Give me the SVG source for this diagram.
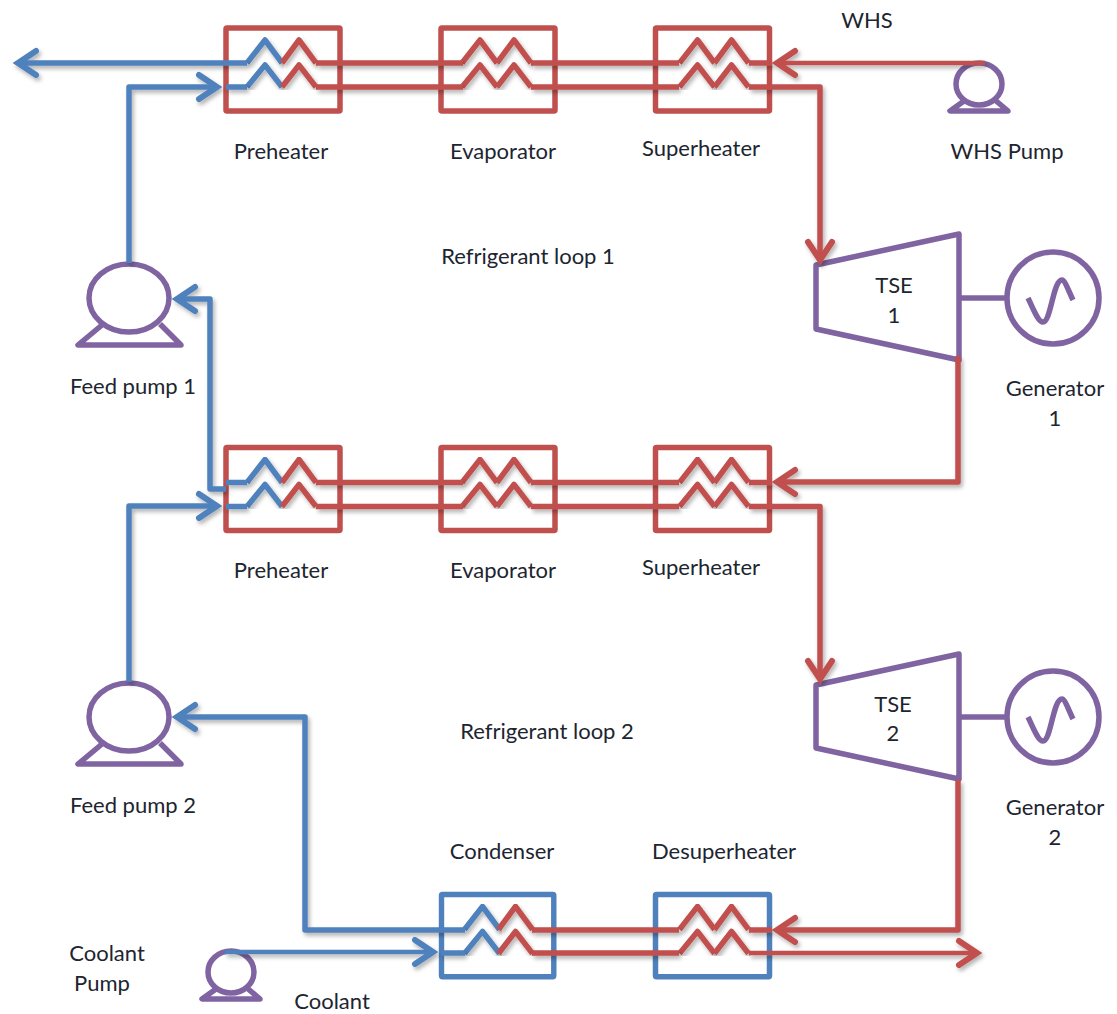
<svg xmlns="http://www.w3.org/2000/svg" width="1117" height="1014" viewBox="0 0 1117 1014">
<style>
text{font-family:"Lato","Open Sans",sans-serif;font-size:22px;fill:#1c2530;text-anchor:middle}
.b,.r,.p{fill:none;stroke-width:5.500;stroke-linejoin:round}
.b{stroke:#4f81bd}.r{stroke:#c0504d}.p{stroke:#8064a2}
.thin{stroke-width:4.500}
</style>
<defs>
<filter id="sh" x="-5%" y="-5%" width="110%" height="110%"><feDropShadow dx="2" dy="3" stdDeviation="2" flood-color="#000" flood-opacity="0.3"/></filter>
<marker id="ab" markerUnits="userSpaceOnUse" orient="auto" overflow="visible" markerWidth="30" markerHeight="30"><path d="M-18,-12L0,0L-18,12" fill="none" stroke="#4f81bd" stroke-width="6" stroke-linecap="round" stroke-linejoin="miter"/></marker>
<marker id="ar" markerUnits="userSpaceOnUse" orient="auto" overflow="visible" markerWidth="30" markerHeight="30"><path d="M-18,-12L0,0L-18,12" fill="none" stroke="#c0504d" stroke-width="6" stroke-linecap="round" stroke-linejoin="miter"/></marker>
<rect id="frame" width="114" height="83" rx="1"/>
<path id="zl" d="M21,35L39,12L56,35M21,59L39,37L56,59"/>
<path id="zr" d="M56,35L73,12L90,35M56,59L73,37L90,59"/>
<g id="pumpL"><ellipse cx="0" cy="0" rx="40" ry="34"/><path d="M-27,27L-51,47H52L31,26"/></g>
<g id="pumpS"><ellipse cx="0" cy="0" rx="23" ry="21"/><path d="M-15,17L-29,27H29L16,16"/></g>
<g id="gen"><path d="M-46,0H-94"/><circle cx="0" cy="0" r="46"/><path d="M-25,0C-20,10 -15,24 -10,24C-2,24 0,-18 9,-18C12,-18 16,-6 20,2"/></g>
</defs>

<g id="preheater-1" transform="translate(226,28)"><use href="#frame" class="r"/><use href="#zl" class="b" filter="url(#sh)"/><use href="#zr" class="r" filter="url(#sh)"/></g>
<g id="evaporator-1" transform="translate(441,28)"><use href="#frame" class="r"/><use href="#zl" class="r" filter="url(#sh)"/><use href="#zr" class="r" filter="url(#sh)"/></g>
<g id="superheater-1" transform="translate(655.5,28)"><use href="#frame" class="r"/><use href="#zl" class="r" transform="translate(3,0)" filter="url(#sh)"/><use href="#zr" class="r" transform="translate(3,0)" filter="url(#sh)"/></g>
<g id="preheater-2" transform="translate(226,447.5)"><use href="#frame" class="r"/><use href="#zl" class="b" filter="url(#sh)"/><use href="#zr" class="r" filter="url(#sh)"/></g>
<g id="evaporator-2" transform="translate(441,447.5)"><use href="#frame" class="r"/><use href="#zl" class="r" filter="url(#sh)"/><use href="#zr" class="r" filter="url(#sh)"/></g>
<g id="superheater-2" transform="translate(655.5,447.5)"><use href="#frame" class="r"/><use href="#zl" class="r" transform="translate(3,0)" filter="url(#sh)"/><use href="#zr" class="r" transform="translate(3,0)" filter="url(#sh)"/></g>
<g id="condenser" transform="translate(441.5,894.5)"><use href="#frame" class="b" transform="scale(0.985,0.99)"/><use href="#zl" class="b" transform="translate(2,0)" filter="url(#sh)"/><use href="#zr" class="r" transform="translate(1,0)" filter="url(#sh)"/></g>
<g id="desuperheater" transform="translate(655.5,894.5)"><use href="#frame" class="b" transform="scale(1,0.99)"/><use href="#zl" class="r" transform="translate(3,0)" filter="url(#sh)"/><use href="#zr" class="r" transform="translate(3,0)" filter="url(#sh)"/></g>

<g id="feed-pump-1" transform="translate(129,298)"><use href="#pumpL" class="p"/></g>
<g id="feed-pump-2" transform="translate(129,717)"><use href="#pumpL" class="p"/></g>
<g id="whs-pump" transform="translate(979,84)"><use href="#pumpS" class="p"/></g>
<g id="coolant-pump" transform="translate(231,972)"><use href="#pumpS" class="p"/></g>

<g id="tse-1"><path class="p" d="M816,265L959,234V360L816,329Z"/></g>
<g id="tse-2"><path class="p" d="M816,685L959,654V779L816,748Z"/></g>
<g id="generator-1" transform="translate(1053,298)"><use href="#gen" class="p"/></g>
<g id="generator-2" transform="translate(1053,717)"><use href="#gen" class="p"/></g>

<g id="connectors" filter="url(#sh)">
<path class="b" d="M247,63H18" marker-end="url(#ab)"/>
<path class="b" d="M129,263V87H217" marker-end="url(#ab)"/>
<path class="b" d="M226,87H247"/>
<path class="r" d="M316,63H463M316,87H463M531,63H679M531,87H679"/>
<path class="r thin" d="M985,63H777" marker-end="url(#ar)"/>
<path class="r" d="M749,63H772"/>
<path class="r" d="M749,87H820V260" marker-end="url(#ar)"/>
<path class="b" d="M129,682V506H217" marker-end="url(#ab)"/>
<path class="b" d="M226,506.500H247"/>
<path class="b" d="M247,482.500H226"/>
<path class="b" d="M226,489H210V299H177" marker-end="url(#ab)"/>
<path class="r" d="M316,482.500H463M316,506.500H463M531,482.500H679M531,506.500H679"/>
<path class="r" d="M958,356V482H777" marker-end="url(#ar)"/>
<path class="r" d="M749,482.500H772"/>
<path class="r" d="M749,506.500H820V679" marker-end="url(#ar)"/>
<path class="b" d="M465,930H305V717H177" marker-end="url(#ab)"/>
<path class="b thin" d="M225,952H433" marker-end="url(#ab)"/>
<path class="b" d="M441,953H465"/>
<path class="r" d="M532,930H679M532,953H679"/>
<path class="r" d="M958,780V930H777" marker-end="url(#ar)"/>
<path class="r" d="M749,930H772"/>
<path class="r thin" d="M749,953H977" marker-end="url(#ar)"/>
</g>
<g id="labels">
<text x="281" y="159">Preheater</text>
<text x="503" y="159">Evaporator</text>
<text x="701" y="156">Superheater</text>
<text x="867" y="28">WHS</text>
<text x="1007" y="159">WHS Pump</text>
<text x="528" y="264">Refrigerant loop 1</text>
<text x="894" y="293">TSE</text>
<text x="894" y="323">1</text>
<text x="1055" y="396">Generator</text>
<text x="1055" y="426">1</text>
<text x="133" y="394">Feed pump 1</text>
<text x="281" y="578">Preheater</text>
<text x="503" y="578">Evaporator</text>
<text x="701" y="575">Superheater</text>
<text x="547" y="739">Refrigerant loop 2</text>
<text x="893" y="712">TSE</text>
<text x="893" y="741">2</text>
<text x="1055" y="815">Generator</text>
<text x="1055" y="845">2</text>
<text x="133" y="813">Feed pump 2</text>
<text x="502" y="859">Condenser</text>
<text x="724" y="859">Desuperheater</text>
<text x="107" y="961">Coolant</text>
<text x="102" y="991">Pump</text>
<text x="332" y="1009">Coolant</text>
</g>
</svg>
